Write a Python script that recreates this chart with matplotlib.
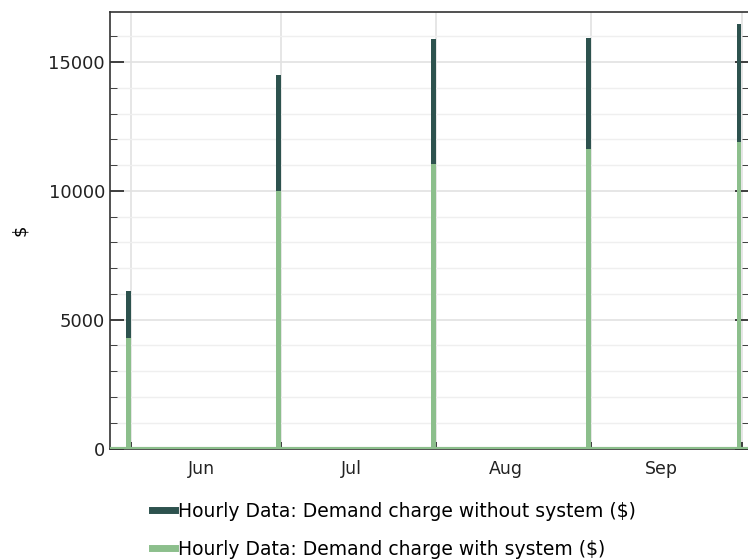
import matplotlib
matplotlib.use("Agg")
import matplotlib.pyplot as plt
from matplotlib.lines import Line2D
import numpy as np
from datetime import datetime

# month-end demand charges (hourly data, spike at last day of month)
dates = [datetime(2023, 5, 31), datetime(2023, 6, 30), datetime(2023, 7, 31),
         datetime(2023, 8, 31), datetime(2023, 9, 30)]
without_system = [6120, 14480, 15890, 15950, 16470]
with_system = [4300, 10000, 11040, 11620, 11880]

month_starts = [datetime(2023, 6, 1), datetime(2023, 7, 1), datetime(2023, 8, 1),
                datetime(2023, 9, 1), datetime(2023, 10, 1)]
month_mids = [datetime(2023, 6, 15), datetime(2023, 7, 15), datetime(2023, 8, 15),
              datetime(2023, 9, 15)]
month_labels = ["Jun", "Jul", "Aug", "Sep"]
series_labels = ["Hourly Data: Demand charge without system ($)",
                 "Hourly Data: Demand charge with system ($)"]

dark = "#2d524e"
green = "#8cbf8c"

plt.rcParams['font.family'] = ['DejaVu Sans']

fig = plt.figure(figsize=(7.48, 5.6), dpi=100)
ax = fig.add_axes([0.147, 0.199, 0.855, 0.780])

ax.bar(dates, without_system, width=0.9, align='edge', color=dark, zorder=3)
ax.bar(dates, with_system, width=0.9, align='edge', color=green, zorder=4)
ax.axhline(0, color=green, lw=3, zorder=4)

ax.set_xlim(datetime(2023, 5, 27, 19), datetime(2023, 10, 2, 14))
ax.set_ylim(0, 16950)

# x axis: gridlines at month starts, labels at mid-month
ax.set_xticks(month_starts)
ax.set_xticklabels([])
ax.set_xticks(month_mids, minor=True)
ax.set_xticklabels(month_labels, minor=True, fontsize=12.5, color="#222222")
ax.tick_params(axis='x', which='major', direction='in', length=5, width=1.2, color="#222222")
ax.tick_params(axis='x', which='minor', length=0, pad=8)

# y axis
ax.set_yticks([0, 5000, 10000, 15000])
ax.set_yticks(np.arange(0, 17000, 1000), minor=True)
ax.tick_params(axis='y', which='major', direction='in', length=10, width=1.2,
               labelsize=13, right=True, color="#222222", labelcolor="#222222")
ax.tick_params(axis='y', which='minor', direction='in', length=5, right=True, color="#222222")
ax.set_ylabel("$", fontsize=13, labelpad=14)

ax.grid(which='major', color="#e2e2e2", lw=1.2, zorder=0)
ax.grid(which='minor', axis='y', color="#efefef", lw=1.0, zorder=0)

for s in ax.spines.values():
    s.set_color("#333333")
    s.set_linewidth(1.2)
ax.spines['right'].set_visible(False)

handles = [Line2D([], [], color=dark, lw=5), Line2D([], [], color=green, lw=5)]
fig.legend(handles, series_labels, loc='upper left', bbox_to_anchor=(0.193, 0.117),
           frameon=False, fontsize=13.5, handlelength=1.25, handletextpad=0.15,
           labelspacing=1.0, borderaxespad=0)

fig.savefig("out.png", dpi=100)
